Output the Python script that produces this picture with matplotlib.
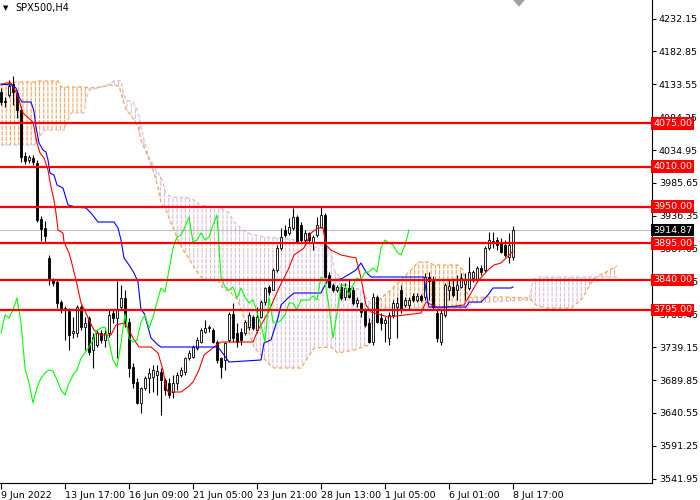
import numpy as np
import matplotlib.pyplot as plt
from matplotlib.patches import Polygon

plt.rcParams['font.family'] = ['DejaVu Sans']
plt.rcParams['hatch.linewidth'] = 0.8

# SPX500 H4 candles, 9 Jun 2022 -> 8 Jul 2022 17:00
opens = [4122, 4108.5, 4117.5, 4134, 4120.5, 4095, 4026, 4020, 4023, 4015.5,
         3931.5, 3918, 3873, 3840, 3837, 3807, 3798, 3793.5, 3760.5, 3760.5,
         3799.5, 3769.5, 3783, 3735, 3742.5, 3760.5, 3750, 3760.5, 3790.5, 3783,
         3799.5, 3813, 3777, 3709.5, 3687, 3655.5, 3678, 3693, 3694.5, 3697.5,
         3702, 3690, 3685.5, 3672, 3685.5, 3697.5, 3702, 3723, 3724.5, 3738,
         3747, 3762, 3768, 3765, 3747, 3723, 3720, 3750, 3789, 3760.5,
         3762, 3760.5, 3769.5, 3784.5, 3765, 3784.5, 3807, 3829.5, 3825, 3855,
         3888, 3915, 3910.5, 3918, 3934.5, 3922.5, 3900, 3910.5, 3897, 3907.5,
         3919.5, 3937.5, 3847.5, 3832.5, 3825, 3829.5, 3814.5, 3828, 3825, 3805.5,
         3805.5, 3795, 3775.5, 3747, 3814.5, 3783, 3775.5, 3753, 3787.5, 3799.5,
         3825, 3802.5, 3802.5, 3816, 3810, 3816, 3814.5, 3844.5, 3838.5, 3790.5,
         3747, 3787.5, 3825, 3829.5, 3825, 3829.5, 3834, 3828, 3843, 3840,
         3858, 3855, 3888, 3898.5, 3900, 3897, 3892.5, 3874.5, 3874.5]
highs = [4128, 4114.5, 4140, 4146, 4125, 4101, 4032, 4027.5, 4027.5, 4020,
         3936, 3928.5, 3877.5, 3843, 3840, 3810, 3801, 3798, 3784.5, 3802.5,
         3802.5, 3784.5, 3786, 3760.5, 3765, 3765, 3768, 3795, 3795, 3838.5,
         3832.5, 3825, 3783, 3715.5, 3693, 3679.5, 3696, 3708, 3712.5, 3712.5,
         3708, 3693, 3693, 3697.5, 3702, 3709.5, 3724.5, 3735, 3742.5, 3754.5,
         3768, 3780, 3772.5, 3768, 3750, 3724.5, 3747, 3792, 3805.5, 3775.5,
         3768, 3780, 3792, 3787.5, 3799.5, 3810, 3829.5, 3832.5, 3858, 3892.5,
         3918, 3922.5, 3933, 3948, 3937.5, 3927, 3915, 3912, 3907.5, 3934.5,
         3949.5, 3940.5, 3852, 3835.5, 3832.5, 3835.5, 3835.5, 3840, 3829.5, 3814.5,
         3807, 3798, 3783, 3820.5, 3817.5, 3790.5, 3784.5, 3792, 3810, 3814.5,
         3832.5, 3814.5, 3814.5, 3820.5, 3820.5, 3819, 3850.5, 3852, 3846, 3795,
         3795, 3835.5, 3840, 3843, 3847.5, 3850.5, 3850.5, 3874.5, 3855, 3861,
         3862.5, 3891, 3912, 3912, 3904.5, 3903, 3900, 3910.5, 3921]
lows = [4102.5, 4099.5, 4114.5, 4102.5, 4083, 4017, 4014, 4015.5, 4012.5, 3927,
        3898.5, 3897, 3832.5, 3831, 3798, 3790.5, 3750, 3735, 3753, 3754.5,
        3765, 3735, 3727.5, 3708, 3739.5, 3745.5, 3739.5, 3754.5, 3775.5, 3723,
        3795, 3769.5, 3694.5, 3678, 3654, 3640.5, 3675, 3670.5, 3672, 3667.5,
        3637.5, 3667.5, 3663, 3663, 3675, 3694.5, 3697.5, 3720, 3723, 3735,
        3745.5, 3760.5, 3762, 3745.5, 3715.5, 3693, 3705, 3747, 3747, 3739.5,
        3742.5, 3757.5, 3765, 3765, 3760.5, 3783, 3802.5, 3817.5, 3825, 3852,
        3885, 3904.5, 3907.5, 3915, 3895.5, 3897, 3892.5, 3897, 3885, 3904.5,
        3918, 3843, 3828, 3822, 3822, 3810, 3810, 3813, 3802.5, 3799.5,
        3784.5, 3769.5, 3745.5, 3742.5, 3775.5, 3765, 3747, 3742.5, 3783, 3753,
        3790.5, 3799.5, 3795, 3807, 3807, 3807, 3810, 3810, 3795, 3747,
        3742.5, 3784.5, 3810, 3814.5, 3810, 3828, 3810, 3825, 3837, 3837,
        3847.5, 3852, 3885, 3888, 3885, 3880.5, 3874.5, 3866, 3870]
closes = [4107, 4107, 4131, 4122, 4095, 4024.5, 4018.5, 4024.5, 4017, 3930,
          3916.5, 3906, 3840, 3835.5, 3805.5, 3798, 3795, 3757.5, 3763.5, 3799.5,
          3769.5, 3775.5, 3732, 3754.5, 3760.5, 3750, 3760.5, 3787.5, 3783, 3795,
          3813, 3775.5, 3708, 3685.5, 3655.5, 3678, 3693, 3700.5, 3705, 3703.5,
          3690, 3675, 3667.5, 3685.5, 3697.5, 3705, 3723, 3730.5, 3739.5, 3750,
          3765, 3768, 3769.5, 3747, 3720, 3709.5, 3745.5, 3789, 3753, 3747,
          3750, 3777, 3787.5, 3768, 3784.5, 3807, 3828, 3822, 3855, 3888,
          3904.5, 3907.5, 3919.5, 3934.5, 3897, 3900, 3910.5, 3900, 3904.5, 3922.5,
          3937.5, 3844.5, 3829.5, 3825, 3829.5, 3813, 3828, 3814.5, 3805.5, 3810,
          3792, 3772.5, 3747, 3814.5, 3777, 3775.5, 3780, 3787.5, 3805.5, 3805.5,
          3795, 3810, 3810, 3810, 3816, 3810, 3844.5, 3838.5, 3799.5, 3753,
          3790.5, 3832.5, 3831, 3817.5, 3832.5, 3843, 3840, 3852, 3852, 3858,
          3852, 3888, 3900, 3895.5, 3892.5, 3882, 3877.5, 3892.5, 3914.87]

# Ichimoku lines (bar index, price)
tenkan_bar = [0, 1.25, 2.5, 3.75, 4.5, 5.25, 5.5, 8, 8.25, 9, 9.75, 10.75, 11.75, 12.5,
              13.25, 13.75, 14.25, 15.5, 15.75, 17, 17.5, 18.75, 20, 21.25, 22, 23.25,
              25, 27.5, 28.75, 30.75, 31.75, 33, 34.5, 37.5, 39.25, 40.5, 41.25, 41.75,
              45, 46.75, 48, 49.5, 50.75, 53.25, 55, 63, 64.25, 66.75, 69.25, 71.75,
              73.25, 75.75, 77.5, 79.25, 80.5, 81.25, 82.5, 85, 88.75, 90, 91.25, 92.5,
              96.75, 105, 106.25, 109.25, 115.75, 117.5, 119.25, 121.75, 123.25, 125,
              126.75, 128]
tenkan = [4132.5, 4135.5, 4135.5, 4122, 4110, 4095, 4090.5, 4077, 4069.5, 4045.5, 4030.5,
          4023, 4005, 3979.5, 3960, 3940.5, 3915, 3910.5, 3897, 3880.5, 3870, 3840,
          3805.5, 3790.5, 3780, 3765, 3757.5, 3757.5, 3772.5, 3775.5, 3768, 3753,
          3739.5, 3739.5, 3730.5, 3705, 3679.5, 3672, 3672, 3679.5, 3687, 3705,
          3727.5, 3739.5, 3747, 3747, 3765, 3790.5, 3825, 3855, 3877.5, 3888,
          3910.5, 3918, 3918, 3892.5, 3885, 3877.5, 3873, 3843, 3802.5, 3792,
          3784.5, 3790.5, 3807, 3798, 3802.5, 3820.5, 3838.5, 3855, 3862.5, 3865.5,
          3876, 3883]
kijun_bar = [0, 2.5, 3.75, 4.5, 5.25, 7.5, 8, 8.25, 8.75, 9.5, 10.5, 11.25, 11.75, 12.25,
             13.25, 14, 15.5, 16.75, 18.75, 21.25, 22.5, 24.25, 28.25, 29.25, 30, 30.75,
             32, 33.25, 34.25, 35, 35.75, 36.75, 37.5, 39.25, 40, 54.25, 55.75, 57, 65,
             65.75, 67.5, 69.25, 70, 71.75, 73.25, 80, 80.75, 81.75, 85, 86.75, 88.75,
             90, 91.25, 92.5, 105.75, 106.5, 107, 116.25, 117, 120, 121.75, 123, 127.5, 128]
kijun = [4134, 4132.5, 4128, 4114.5, 4107, 4107, 4098, 4092, 4069.5, 4045.5, 4035, 4032,
         4020, 4000.5, 3997.5, 3982.5, 3978, 3952.5, 3949.5, 3948, 3940.5, 3927, 3927,
         3918, 3900, 3873, 3862.5, 3850.5, 3837, 3795, 3790.5, 3769.5, 3753, 3742.5,
         3739.5, 3739.5, 3727.5, 3717, 3720, 3745.5, 3750, 3783, 3802.5, 3813, 3820.5,
         3820.5, 3829.5, 3840, 3841.5, 3847.5, 3855, 3865.5, 3852, 3844.5, 3844.5,
         3814.5, 3799.5, 3799.5, 3807, 3807, 3817.5, 3828, 3828, 3829.5]
span_a_bar = [0, 3.25, 8.25, 9.25, 14.25, 15, 20.75, 22, 25, 27.5, 29.5, 30.5, 31.25, 32.5,
              34.25, 35, 36.75, 38, 39.25, 40, 41.25, 42.5, 43.25, 44.25, 45.5, 46.75,
              48.25, 50, 51.75, 54.25, 55.5, 57.5, 59.25, 63.25, 66.75, 68.25, 75, 78.25,
              82.5, 84.25, 88.25, 91.75, 93.25, 95, 97.5, 99.25, 100.75, 103, 104.25,
              106.75, 108.25, 114.25, 115.5, 116.75, 125, 132, 133.75, 136.25, 142.5,
              145, 147.5, 148.75, 151.25, 154]
span_a = [4132.5, 4137, 4137, 4138.5, 4138.5, 4129.5, 4129.5, 4128, 4129.5, 4132.5, 4131,
          4110, 4095, 4087.5, 4069.5, 4050, 4024.5, 4005, 3979.5, 3955.5, 3945, 3925.5,
          3915, 3900, 3885, 3874.5, 3859.5, 3844.5, 3840, 3840, 3828, 3820.5, 3810,
          3739.5, 3715.5, 3708, 3708, 3738, 3739.5, 3730.5, 3735, 3742.5, 3802.5, 3813,
          3825, 3835.5, 3844.5, 3858, 3867, 3867, 3862.5, 3862.5, 3855, 3814, 3814.5,
          3813, 3802.5, 3798, 3798, 3810, 3835.5, 3844.5, 3852, 3861]
span_b_bar = [0, 8.25, 8.75, 10.75, 15.75, 16.25, 17.5, 20.75, 21.25, 22, 24.25, 26.75,
              27.5, 28.75, 30, 30.5, 31.25, 33, 34.25, 35, 35.75, 37, 38.25, 40, 41.25,
              42.5, 46.75, 48.25, 50, 53.25, 55, 56.75, 58.25, 60.5, 62.5, 65.75, 69.25,
              75.75, 78.25, 80, 82.5, 83.25, 86.25, 90, 91.75, 93, 116.75, 117.5, 132,
              133, 134.25, 154]
span_b = [4042.5, 4042.5, 4045.5, 4065, 4065, 4072.5, 4090.5, 4090.5, 4110, 4125, 4128,
          4132.5, 4135.5, 4140, 4138.5, 4120.5, 4110, 4107, 4092, 4069.5, 4050, 4024.5,
          4009.5, 3994.5, 3970.5, 3964.5, 3963, 3960, 3952.5, 3949.5, 3948, 3942, 3927,
          3915, 3909, 3904.5, 3903, 3898.5, 3888, 3892.5, 3885, 3855, 3832.5, 3825,
          3810, 3798, 3798, 3805.5, 3810, 3840, 3844.5, 3844.5]
chikou_shift = 26

levels = [4075, 4010, 3950, 3895, 3840, 3795]
price_ticks = [4232.15, 4182.85, 4133.55, 4084.25, 4034.95, 3985.65, 3936.35, 3887.05,
               3837.75, 3788.45, 3739.15, 3689.85, 3640.55, 3591.25, 3541.95]
time_bars = [0, 16, 32, 48, 64, 80, 96, 112, 128]
time_labels = ['9 Jun 2022', '13 Jun 17:00', '16 Jun 09:00', '21 Jun 05:00',
               '23 Jun 21:00', '28 Jun 13:00', '1 Jul 05:00', '6 Jul 01:00', '8 Jul 17:00']

o = np.array(opens)
h = np.array(highs)
l = np.array(lows)
c = np.array(closes)
bars = np.arange(len(c))

fig = plt.figure(figsize=(7, 5), dpi=100)
ax = fig.add_axes([0, 17 / 500, 652 / 700, 483 / 500])
ax.set_xlim(-0.25, 162.75)
ax.set_ylim(3535.5, 4260)

# Kumo cloud: dotted vertical hatching, sandy when span A on top, thistle when span B on top
pa = np.column_stack([span_a_bar, span_a])
pb = np.column_stack([span_b_bar, span_b])
cloud = np.vstack([pa, pb[::-1]])
above_b = np.vstack([pb, [[span_b_bar[-1], 5000], [span_b_bar[0], 5000]]])
below_b = np.vstack([pb, [[span_b_bar[-1], 3000], [span_b_bar[0], 3000]]])
for region, col in [(above_b, '#F4A460'), (below_b, '#D8BFD8')]:
    patch = Polygon(cloud, closed=True, facecolor='none', edgecolor=col,
                    hatch='||||', lw=0, zorder=1)
    ax.add_patch(patch)
    clip = Polygon(region, closed=True, transform=ax.transData)
    patch.set_clip_path(clip)
# break the hatch into short dashes
ax.add_patch(Polygon(cloud, closed=True, facecolor='none', edgecolor='white',
                     hatch='---', lw=0, zorder=1.1))
ax.plot(span_a_bar, span_a, color='#F4A460', lw=0.9, ls=(0, (3, 2)), zorder=1.2)
ax.plot(span_b_bar, span_b, color='#D8BFD8', lw=0.9, ls=(0, (3, 2)), zorder=1.2)

# current price line
ax.axhline(c[-1], color='#C0C0C0', lw=0.8, zorder=1.5)

# candles
ax.vlines(bars, l, h, color='black', lw=0.8, zorder=2)
up = c >= o
ax.bar(bars[up], c[up] - o[up], bottom=o[up], width=0.7, facecolor='white',
       edgecolor='black', lw=0.6, zorder=2.2)
ax.bar(bars[~up], c[~up] - o[~up], bottom=o[~up], width=0.7, facecolor='black',
       edgecolor='black', lw=0.6, zorder=2.2)

# Ichimoku lines
ax.plot(tenkan_bar, tenkan, color='#FF0000', lw=0.8, zorder=3)
ax.plot(kijun_bar, kijun, color='#0000FF', lw=0.8, zorder=3)
ax.plot(bars[chikou_shift:] - chikou_shift, c[chikou_shift:], color='#00FF00', lw=0.8, zorder=3)

# support / resistance levels
trans = ax.get_yaxis_transform()
for lv in levels:
    ax.axhline(lv, color='#FF0000', lw=1.6, zorder=4)
    ax.text(1.002, lv, f'{lv:.2f}', transform=trans, ha='left', va='center',
            fontsize=6.8, color='white', clip_on=False, zorder=6,
            bbox=dict(boxstyle='square,pad=0.2', fc='#FF0000', ec='none'))
ax.text(1.002, c[-1], f'{c[-1]:.2f}', transform=trans, ha='left', va='center',
        fontsize=6.8, color='white', clip_on=False, zorder=6,
        bbox=dict(boxstyle='square,pad=0.2', fc='black', ec='none'))

# axes styling
for side in ['top', 'left']:
    ax.spines[side].set_visible(False)
ax.spines['right'].set_linewidth(0.8)
ax.spines['bottom'].set_linewidth(0.8)
ax.yaxis.tick_right()
ax.set_yticks(price_ticks)
ax.set_yticklabels([f'{p:.2f}' for p in price_ticks])
ax.tick_params(axis='y', direction='out', length=3, width=0.8, pad=2, labelsize=6.8)
ax.set_xticks(time_bars)
ax.set_xticklabels(time_labels)
ax.tick_params(axis='x', direction='out', length=4, width=0.8, pad=2, labelsize=6.8)
for lbl in ax.get_xticklabels():
    lbl.set_ha('left')

# chart shift marker
ax.add_patch(Polygon([[0.787, 1.0], [0.805, 1.0], [0.796, 0.986]], closed=True,
                     transform=ax.transAxes, facecolor='#A0A0A0', edgecolor='none',
                     clip_on=False, zorder=6))

fig.text(6 / 700, 1 - 8 / 500, '\u25bc', fontsize=5, va='center', ha='center')
fig.text(15 / 700, 1 - 8 / 500, 'SPX500,H4', fontsize=7, va='center', ha='left')

fig.savefig('out.png', dpi=100)
